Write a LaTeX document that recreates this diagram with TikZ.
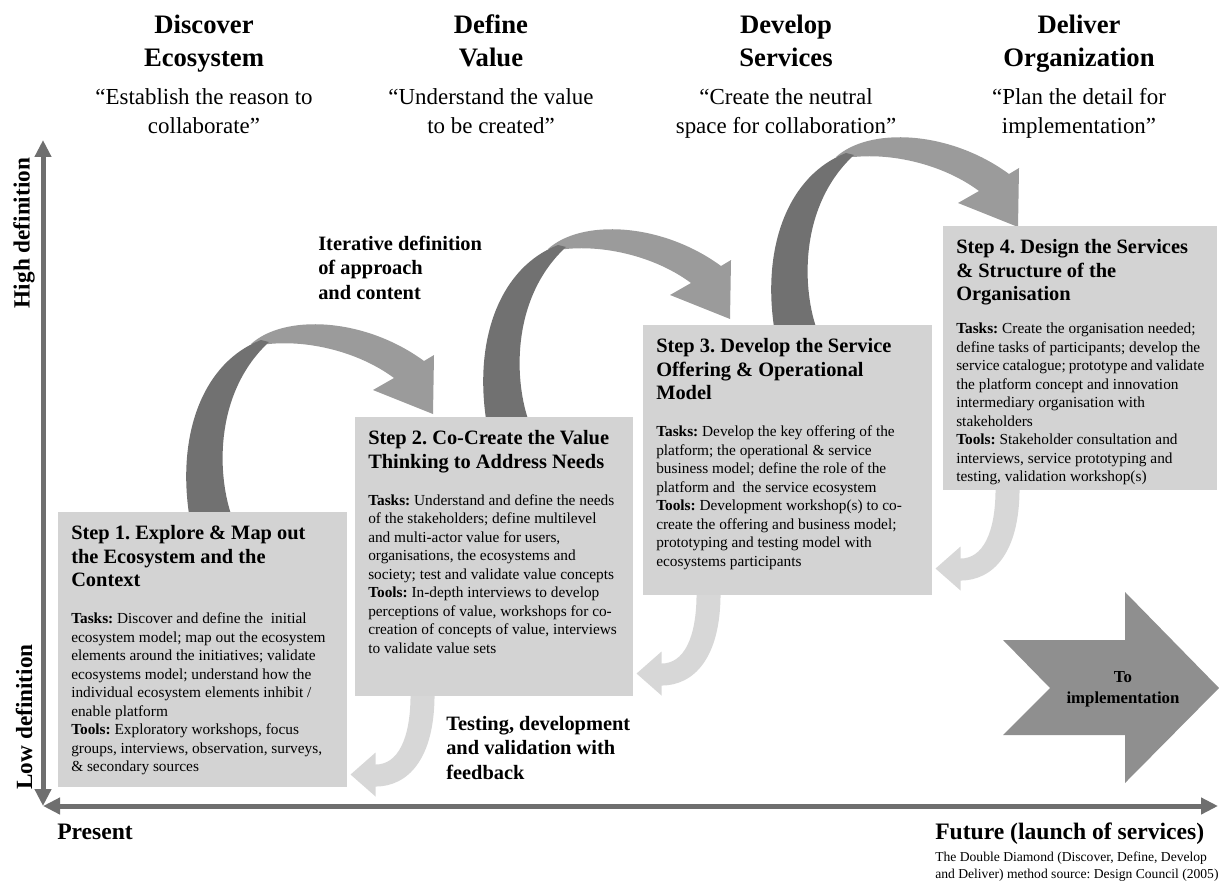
\documentclass[tikz,border=0pt]{standalone}
\usepackage{fontspec}
\setmainfont{Liberation Serif}
\usetikzlibrary{arrows.meta,calc,backgrounds}

\definecolor{boxgray}{HTML}{D3D3D3}
\definecolor{fbgray}{HTML}{D7D7D7}
\definecolor{loopdark}{HTML}{717171}
\definecolor{looplight}{HTML}{9B9B9B}
\definecolor{axisgray}{HTML}{6F6F6F}
\definecolor{implgray}{HTML}{8F8F8F}

\newcommand{\ttlsize}{\fontsize{15.3pt}{17.6pt}\selectfont\bfseries\frenchspacing}
\newcommand{\txtsize}{\fontsize{11.5pt}{13.85pt}\selectfont\frenchspacing}

\begin{document}
\begin{tikzpicture}[x=0.75pt,y=0.75pt,yscale=-1,xscale=1,
  stepbox/.style={fill=boxgray,anchor=north west,inner xsep=9.75pt,inner ysep=10pt},
  phase/.style={font=\fontsize{20pt}{24.75pt}\selectfont\bfseries,anchor=base,inner sep=0pt},
  motto/.style={font=\fontsize{17.2pt}{21.5pt}\selectfont,anchor=base,inner sep=0pt},
  note/.style={font=\fontsize{15.3pt}{18.6pt}\selectfont\bfseries,anchor=base west,inner sep=0pt},
  axislabel/.style={font=\fontsize{17.4pt}{20pt}\selectfont\bfseries,rotate=90,inner sep=0pt},
  timelabel/.style={font=\fontsize{17.7pt}{21pt}\selectfont\bfseries,anchor=base west,inner sep=0pt},
  axisline/.style={draw=axisgray,line width=3.75pt,{Triangle[length=12.75pt,width=12pt]}-{Triangle[length=12.75pt,width=12pt]}}
]
\useasboundingbox (0,0) rectangle (1219,884);

% Text Node
\node[phase] (h1) at (204,34) {\begin{tabular}[t]{@{}c@{}}Discover\\Ecosystem\end{tabular}};
% Text Node
\node[phase] (h2) at (491,34) {\begin{tabular}[t]{@{}c@{}}Define\\Value\end{tabular}};
% Text Node
\node[phase] (h3) at (786,34) {\begin{tabular}[t]{@{}c@{}}Develop\\Services\end{tabular}};
% Text Node
\node[phase] (h4) at (1079,34) {\begin{tabular}[t]{@{}c@{}}Deliver\\Organization\end{tabular}};
% Text Node
\node[motto] (q1) at (204,105) {\begin{tabular}[t]{@{}c@{}}“Establish the reason to\\collaborate”\end{tabular}};
% Text Node
\node[motto] (q2) at (491,105) {\begin{tabular}[t]{@{}c@{}}“Understand the value\\to be created”\end{tabular}};
% Text Node
\node[motto] (q3) at (786,105) {\begin{tabular}[t]{@{}c@{}}“Create the neutral\\space for collaboration”\end{tabular}};
% Text Node
\node[motto] (q4) at (1079,105) {\begin{tabular}[t]{@{}c@{}}“Plan the detail for\\implementation”\end{tabular}};

%Axes
\coordinate (org) at (43,806);
\coordinate (ytop) at (43,140);
\coordinate (xend) at (1218,806);
\draw[axisline] (org) -- (ytop);
\draw[axisline] (org) -- (xend);

% Text Node
\node[axislabel] (hi) at (24,233) {High definition};
% Text Node
\node[axislabel] (lo) at (24,717) {Low definition};
% Text Node
\node[timelabel] (now) at (57,839) {Present};
% Text Node
\node[timelabel] (fut) at (935,839) {Future (launch of services)};
% Text Node
\node[anchor=base west,inner sep=0pt,font=\fontsize{10.2pt}{12.75pt}\selectfont\frenchspacing] (src) at (935,861)
  {\begin{tabular}[t]{@{}l@{}}The Double Diamond (Discover, Define, Develop\\and Deliver) method source: Design Council (2005)\end{tabular}};

%Step boxes
\node[stepbox] (s1) at (58,512) {\begin{minipage}[t][186.25pt][t]{197.25pt}
{\ttlsize Step 1. Explore \& Map out\\the Ecosystem and the\\Context\par}
\vspace{14pt}
{\txtsize\textbf{Tasks:} Discover and define the\ \ initial\\
ecosystem model; map out the ecosystem\\
elements around the initiatives; validate\\
ecosystems model; understand how the\\
individual ecosystem elements inhibit /\\
enable platform\\
\textbf{Tools:} Exploratory workshops, focus\\
groups, interviews, observation, surveys,\\
\& secondary sources\par}
\end{minipage}};

\node[stepbox] (s2) at (355,417) {\begin{minipage}[t][189.25pt][t]{189pt}
{\ttlsize Step 2. Co-Create the Value\\Thinking to Address Needs\par}
\vspace{14pt}
{\txtsize\textbf{Tasks:} Understand and define the needs\\
of the stakeholders; define multilevel\\
and multi-actor value for users,\\
organisations, the ecosystems and\\
society; test and validate value concepts\\
\textbf{Tools:} In-depth interviews to develop\\
perceptions of value, workshops for co-\\
creation of concepts of value, interviews\\
to validate value sets\par}
\end{minipage}};

\node[stepbox] (s3) at (643,325) {\begin{minipage}[t][182.5pt][t]{197.25pt}
{\ttlsize Step 3. Develop the Service\\Offering \& Operational\\Model\par}
\vspace{14pt}
{\txtsize\textbf{Tasks:} Develop the key offering of the\\
platform; the operational \& service\\
business model; define the role of the\\
platform and\ \ the service ecosystem\\
\textbf{Tools:} Development workshop(s) to co-\\
create the offering and business model;\\
prototyping and testing model with\\
ecosystems participants\par}
\end{minipage}};

\node[stepbox] (s4) at (943,226) {\begin{minipage}[t][178pt][t]{186pt}
{\ttlsize Step 4. Design the Services\\\& Structure of the\\Organisation\par}
\vspace{11pt}
{\txtsize\textbf{Tasks:} Create the organisation needed;\\
define tasks of participants; develop the\\
service catalogue; prototype and validate\\
the platform concept and innovation\\
intermediary organisation with\\
stakeholders\\
\textbf{Tools:} Stakeholder consultation and\\
interviews, service prototyping and\\
testing, validation workshop(s)\par}
\end{minipage}};

\begin{scope}[on background layer]
%Shape: Loop Arrows
\foreach \bx in {s1,s2,s3}{
  \begin{scope}[shift={($(\bx.north west)+(131,0)$)}]
    \fill[looplight] (62,-168) .. controls (95,-198) and (175,-195) .. (235,-151) -- (245,-157) -- (244,-98) -- (184,-122) -- (205,-134) .. controls (170,-160) and (120,-172) .. (80,-168) -- cycle;
    \fill[loopdark] (0,2) .. controls (-12,-80) and (15,-150) .. (72,-172) -- (80,-170) .. controls (26,-120) and (28,-40) .. (42,2) -- cycle;
  \end{scope}
}
%Shape: Feedback Arrows
\foreach \src/\dst in {s2/s1,s3/s2,s4/s3}{
  \fill[fbgray,shift={($(\dst.east |- \src.south)+(3,78)$)}] (60,-80) .. controls (60,-35) and (47,-10) .. (25,-10) -- (25,-22) -- (0,0) -- (25,22) -- (25,12) .. controls (57,12) and (84,-15) .. (84,-80) -- cycle;
}
\end{scope}

% Text Node
\node[note] (iter) at (318,250) {\begin{tabular}[t]{@{}l@{}}Iterative definition\\of approach\\and content\end{tabular}};
% Text Node
\node[note] (test) at (446,730) {\begin{tabular}[t]{@{}l@{}}Testing, development\\and validation with\\feedback\end{tabular}};

%Shape: Right Arrow
\fill[implgray] (1003,640) -- (1125,640) -- (1125,592) -- (1219,688) -- (1125,783) -- (1125,735) -- (1003,735) -- (1050,688) -- cycle;
% Text Node
\node[font=\fontsize{12.6pt}{15.75pt}\selectfont\bfseries,align=center,inner sep=0pt] (impl) at (1123,689) {To\\implementation};

\end{tikzpicture}
\end{document}
